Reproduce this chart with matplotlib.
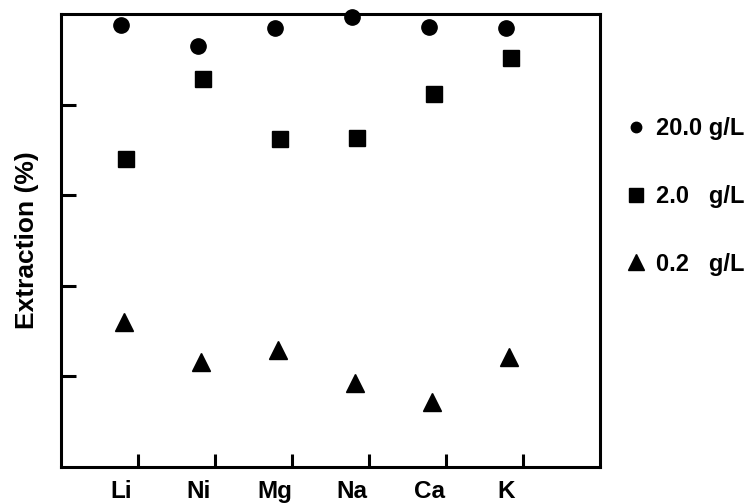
import matplotlib
matplotlib.use("Agg")
import matplotlib.pyplot as plt
import numpy as np
from matplotlib.lines import Line2D

plt.rcParams['font.family'] = ['Liberation Sans', 'DejaVu Sans']
plt.rcParams['font.weight'] = 'bold'

# data
metals = ["Li", "Ni", "Mg", "Na", "Ca", "K"]
conc_labels = ["20.0 g/L", "2.0   g/L", "0.2   g/L"]
ext_20 = [97.6, 92.9, 96.9, 99.3, 97.1, 96.9]
ext_2 = [68.0, 85.6, 72.4, 72.6, 82.3, 90.3]
ext_02 = [32.0, 23.2, 25.8, 18.5, 14.3, 24.2]

pos = np.arange(1, len(metals) + 1)

fig = plt.figure(figsize=(7.55, 5.04), dpi=100)
ax = fig.add_axes([0.0808, 0.0734, 0.7142, 0.8988])

# markers sit a bit left of their tick, as in the original
ax.plot(pos - 0.22, ext_20, "o", color="black", ms=11, clip_on=False)
ax.plot(pos - 0.16, ext_2, "s", color="black", ms=12, clip_on=False)
ax.plot(pos - 0.18, ext_02, "^", color="black", ms=13, clip_on=False)

ax.set_xlim(0, 7)
ax.set_ylim(0, 100)

for s in ax.spines.values():
    s.set_linewidth(2.2)

ax.set_yticks([20, 40, 60, 80])
ax.set_yticklabels([])
ax.tick_params(axis="y", direction="in", length=11, width=2.2)

# major ticks without labels, labels on minor ticks shifted left
ax.set_xticks(pos)
ax.set_xticklabels([])
ax.tick_params(axis="x", which="major", direction="in", length=9.5, width=2.2)
ax.set_xticks(pos - 0.22, minor=True)
ax.set_xticklabels(metals, minor=True, fontsize=17.5, fontweight="bold")
ax.tick_params(axis="x", which="minor", length=0, pad=9)

ax.set_ylabel("Extraction (%)", fontsize=19, fontweight="bold", labelpad=12)

handles = [
    Line2D([], [], marker="o", ls="none", color="black", ms=7.5),
    Line2D([], [], marker="s", ls="none", color="black", ms=10),
    Line2D([], [], marker="^", ls="none", color="black", ms=12),
]
fig.legend(handles, conc_labels, loc="upper left", bbox_to_anchor=(0.799, 0.81),
           frameon=False, handlelength=1.0, handletextpad=0.35, labelspacing=1.9,
           prop={"size": 17, "weight": "bold"})

fig.savefig("out.png", dpi=100)
